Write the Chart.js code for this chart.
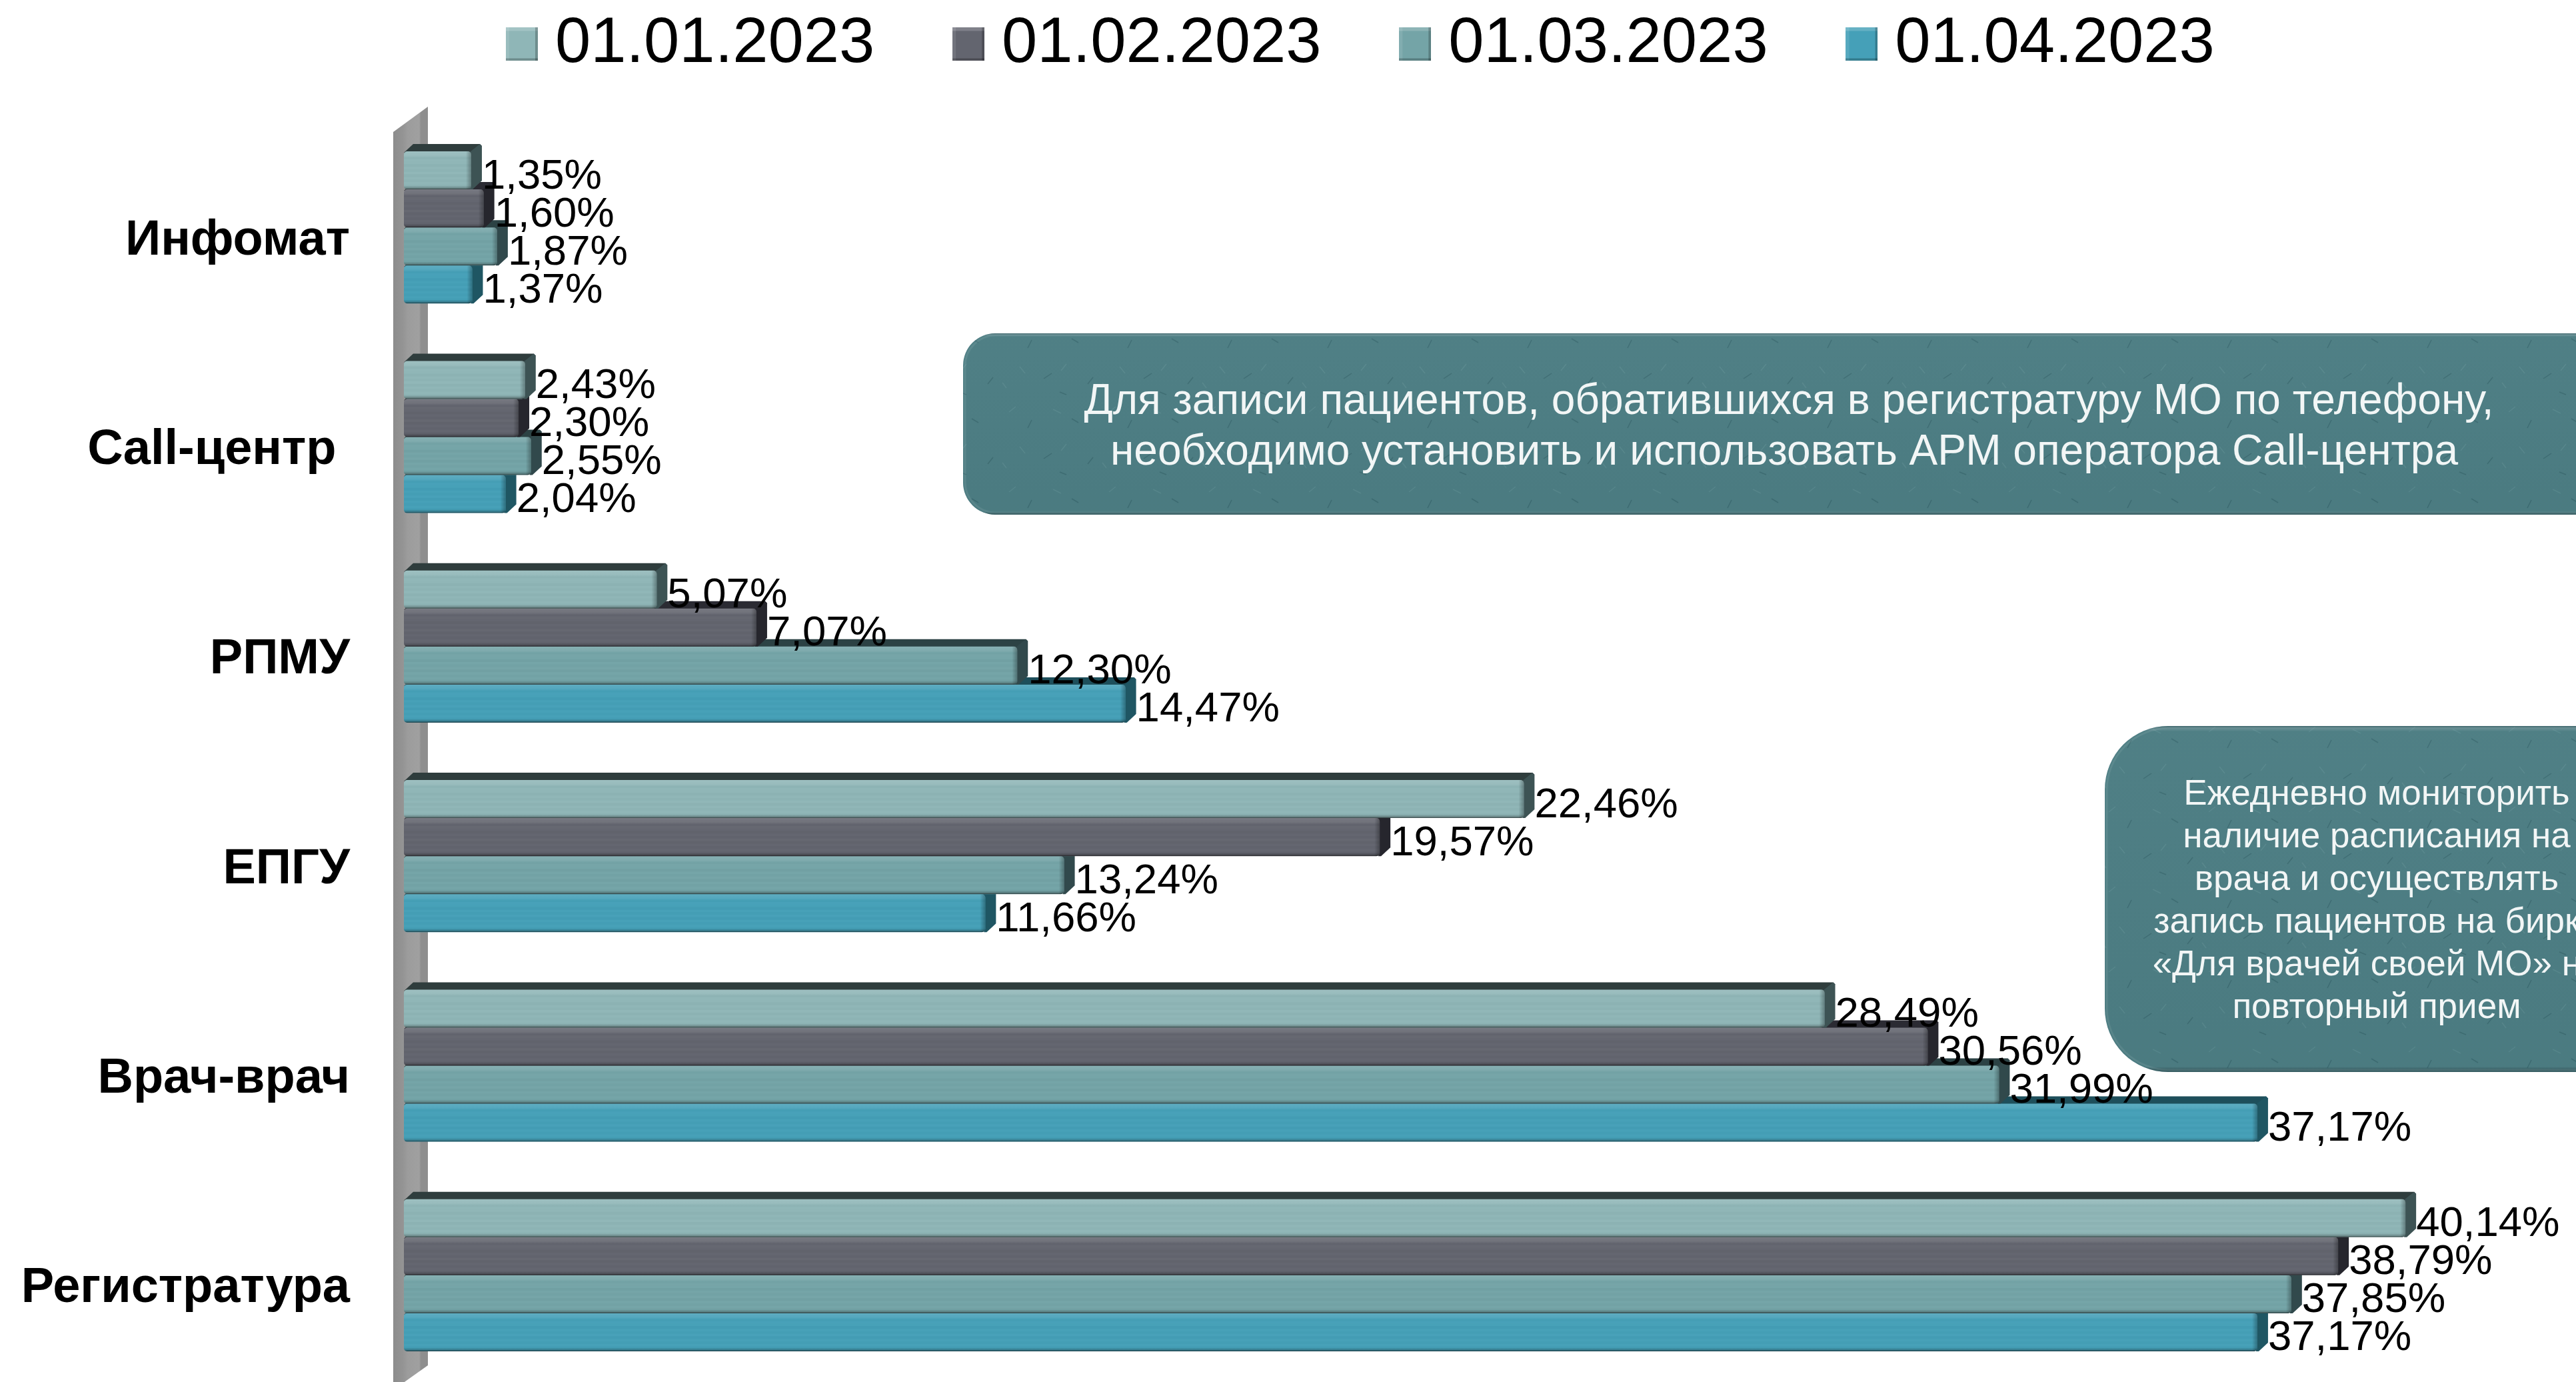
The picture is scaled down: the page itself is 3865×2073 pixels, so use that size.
<!DOCTYPE html>
<html><head><meta charset="utf-8">
<style>html,body{margin:0;padding:0;background:#fff}canvas{display:block}</style>
<script src="https://cdn.jsdelivr.net/npm/chart.js@4"></script>
</head><body><canvas id="c" width="3865" height="2073" style="width:3865px;height:2073px"></canvas>
<script>
const categories = ["Инфомат","Call-центр ","РПМУ","ЕПГУ","Врач-врач","Регистратура"];
const seriesNames = ["01.01.2023","01.02.2023","01.03.2023","01.04.2023"];
const jan = [1.35,2.43,5.07,22.46,28.49,40.14];
const feb = [1.60,2.30,7.07,19.57,30.56,38.79];
const mar = [1.87,2.55,12.30,13.24,31.99,37.85];
const apr = [1.37,2.04,14.47,11.66,37.17,37.17];
const frontColors = ["#8FB6B7","#63656F","#74A4A7","#45A0B8"];
const topColors = ["#2F3D3D","#2B2B33","#2C4244","#1E4F5B"];
const sideColors = ["#3D5354","#26262D","#31494C","#1F5663"];
const note1 = ["Для записи пациентов, обратившихся в регистратуру МО по телефону,","необходимо установить и использовать АРМ оператора Call-центра"];
const note2 = ["Ежедневно мониторить","наличие расписания на","врача и осуществлять","запись пациентов на бирки","«Для врачей своей МО» на","повторный прием"];
const FONT = '"Liberation Sans", Arial, sans-serif';
const DX = 16, DY = 11;

function rr(ctx,x,y,w,h,r){ctx.beginPath();ctx.roundRect(x,y,w,h,r);}

function makeSwatch(col){
  const s=document.createElement('canvas');s.width=48;s.height=50;
  const g=s.getContext('2d');g.fillStyle=col;g.fillRect(0,0,48,50);
  g.fillStyle='rgba(255,255,255,0.18)';g.fillRect(0,0,48,5);
  g.fillStyle='rgba(255,255,255,0.10)';g.fillRect(0,0,5,50);
  g.fillStyle='rgba(0,0,0,0.22)';g.fillRect(0,46,48,4);g.fillRect(44,0,4,50);
  return s;
}
const swatches = frontColors.map(makeSwatch);

function paperTile(ctx){
  const t=document.createElement('canvas');t.width=150;t.height=120;
  const g=t.getContext('2d');g.lineWidth=1.5;
  const marks=[[14,18,10,-8],[48,30,-6,12],[80,14,12,6],[118,34,-10,-6],[30,70,8,10],[66,88,12,-8],[100,66,-8,10],[132,96,8,-10],[10,102,-6,-8],[90,108,10,4]];
  marks.forEach((m,k)=>{
    g.strokeStyle=k%2?'rgba(30,70,75,.28)':'rgba(150,190,190,.16)';
    g.beginPath();g.moveTo(m[0],m[1]);g.lineTo(m[0]+m[2],m[1]+m[3]);g.stroke();
  });
  return ctx.createPattern(t,'repeat');
}

const bars3d = {
  id:'bars3d',
  beforeDraw(chart){
    const l=chart.legend;
    l.left=781-l.options.labels.padding; l.top=18.5-l.options.labels.padding;
    l.right=3865;
  },
  beforeDatasetsDraw(chart){
    const {ctx,chartArea:a,scales:{x}}=chart;
    const b=x.getPixelForValue(0);
    const L=b-16,R=b+36;
    const top=a.top+14,bot=a.bottom+15;
    ctx.save();
    ctx.beginPath();
    ctx.moveTo(L,top);ctx.lineTo(R,top-38);ctx.lineTo(R,bot-37);ctx.lineTo(L,bot);ctx.closePath();
    ctx.clip();
    const g=ctx.createLinearGradient(L,0,R,0);
    g.addColorStop(0,'#8C8C8C');g.addColorStop(.28,'#949494');g.addColorStop(.42,'#9C9C9C');
    g.addColorStop(.75,'#A0A0A0');g.addColorStop(.8,'#8E8E8E');g.addColorStop(1,'#8E8E8E');
    ctx.fillStyle=g;ctx.fillRect(L,top-60,R-L,bot-top+80);
    ctx.restore();
  },
  beforeDatasetDraw(chart,args){
    const {ctx}=chart,i=args.index;
    const meta=chart.getDatasetMeta(i);
    ctx.save();
    meta.data.forEach(el=>{
      const h=el.height,top=el.y-h/2,bot=el.y+h/2,base=el.base,end=el.x;
      ctx.fillStyle=topColors[i];
      ctx.beginPath();ctx.moveTo(base,top+2);ctx.lineTo(base+DX-2,top-DY);ctx.lineTo(end+DX-3,top-DY);
      ctx.lineTo(end+DX,top-DY+3);ctx.lineTo(end,top+5);ctx.closePath();ctx.fill();
      ctx.fillStyle=sideColors[i];
      ctx.beginPath();ctx.moveTo(end-2,top+1);ctx.lineTo(end+DX-3,top-DY);ctx.lineTo(end+DX,top-DY+3);
      ctx.lineTo(end+DX,bot-DY-2);ctx.lineTo(end+2,bot);ctx.lineTo(end-2,bot);ctx.closePath();ctx.fill();
    });
    ctx.restore();
  },
  afterDatasetDraw(chart,args){
    const {ctx}=chart,i=args.index;
    const meta=chart.getDatasetMeta(i);
    const streaks=[.00,.02,-.01,.02,.01,-.02,.01,-.01,.02,-.02,.01,-.01,.01,-.01,.01];
    ctx.save();
    meta.data.forEach(el=>{
      const h=el.height,top=el.y-h/2,base=el.base,w=el.x-base;
      ctx.save();
      rr(ctx,base,top,w,h,5);ctx.clip();
      const step=h/streaks.length;
      streaks.forEach((s,k)=>{
        ctx.fillStyle=s>=0?`rgba(255,255,255,${s})`:`rgba(0,0,0,${-s})`;
        ctx.fillRect(base,top+k*step,w,step+.5);
      });
      const g=ctx.createLinearGradient(0,top,0,top+h);
      g.addColorStop(0,'rgba(255,255,255,0.14)');g.addColorStop(.09,'rgba(255,255,255,0.08)');
      g.addColorStop(.18,'rgba(255,255,255,0)');g.addColorStop(.9,'rgba(0,0,0,0)');
      g.addColorStop(.96,'rgba(0,0,0,0.22)');g.addColorStop(1,'rgba(0,0,0,0.65)');
      ctx.fillStyle=g;ctx.fillRect(base,top,w,h);
      const g2=ctx.createLinearGradient(el.x-8,0,el.x,0);
      g2.addColorStop(0,'rgba(0,0,0,0)');g2.addColorStop(1,'rgba(0,0,0,0.3)');
      ctx.fillStyle=g2;ctx.fillRect(el.x-8,top,8,h);
      ctx.restore();
    });
    ctx.restore();
  },
  afterDatasetsDraw(chart){
    const {ctx}=chart;
    ctx.save();
    ctx.font='63.5px '+FONT;ctx.fillStyle='#000';ctx.textAlign='left';ctx.textBaseline='alphabetic';
    chart.data.datasets.forEach((ds,i)=>{
      chart.getDatasetMeta(i).data.forEach((el,j)=>{
        const t=ds.data[j].toFixed(2).replace('.',',')+'%';
        ctx.fillText(t,el.x+16,el.y+27);
      });
    });
    ctx.restore();
  },
  afterDraw(chart){
    const {ctx}=chart;
    const tile=paperTile(ctx);
    const box=(x,y,w,h,r)=>{
      ctx.save();
      rr(ctx,x,y,w,h,r);ctx.fillStyle='#4C7D83';ctx.fill();ctx.clip();
      ctx.fillStyle=tile;ctx.fillRect(x,y,w,h);
      const g=ctx.createLinearGradient(0,y,0,y+h);
      g.addColorStop(0,'rgba(40,70,75,.45)');g.addColorStop(.015,'rgba(255,255,255,.02)');
      g.addColorStop(.985,'rgba(0,0,0,.02)');g.addColorStop(1,'rgba(30,60,65,.5)');
      ctx.fillStyle=g;ctx.fillRect(x,y,w,h);
      rr(ctx,x+3,y+3,w,h-6,r-2);ctx.strokeStyle='rgba(255,255,255,.08)';ctx.lineWidth=3;ctx.stroke();
      ctx.restore();
    };
    box(1445,500,2600,272,48);
    box(3158,1089,900,519,95);
    ctx.save();
    ctx.fillStyle='#F2F6F6';ctx.textAlign='center';ctx.textBaseline='middle';
    ctx.font='64px '+FONT;
    ctx.fillText(note1[0],2684,603);
    ctx.fillText(note1[1],2677,679);
    ctx.font='53px '+FONT;
    note2.forEach((t,k)=>ctx.fillText(t,3566,1192+k*64));
    ctx.restore();
  }
};

const series=[jan,feb,mar,apr];
new Chart(document.getElementById('c'),{
  type:'bar',
  data:{labels:categories,datasets:seriesNames.map((n,i)=>({
    label:n,data:series[i],backgroundColor:frontColors[i],borderWidth:0,borderRadius:5,borderSkipped:false,
    categoryPercentage:.726,barPercentage:1
  }))},
  options:{
    indexAxis:'y',responsive:false,animation:false,devicePixelRatio:1,
    layout:{padding:{left:0,right:0,top:0,bottom:3}},
    plugins:{
      tooltip:{enabled:false},
      title:{display:false},
      legend:{display:true,position:'top',align:'start',maxHeight:184,
        labels:{
          color:'#000',usePointStyle:true,pointStyleWidth:4,padding:138.8,
          font:{family:FONT,size:95.8,lineHeight:1},
          generateLabels(chart){
            return Chart.defaults.plugins.legend.labels.generateLabels(chart).map((it,i)=>({...it,pointStyle:swatches[i]}));
          }
        }}
    },
    scales:{
      x:{display:false,min:0,max:43.56,grid:{display:false}},
      y:{grid:{display:false,drawTicks:false},border:{display:false},
        afterFit(s){s.width=606;s.paddingTop=0;s.paddingBottom=0;},
        ticks:{color:'#000',autoSkip:false,padding:81,labelOffset:20,font:{family:FONT,size:74,weight:'bold'}}}
    }
  },
  plugins:[bars3d]
});
</script></body></html>
